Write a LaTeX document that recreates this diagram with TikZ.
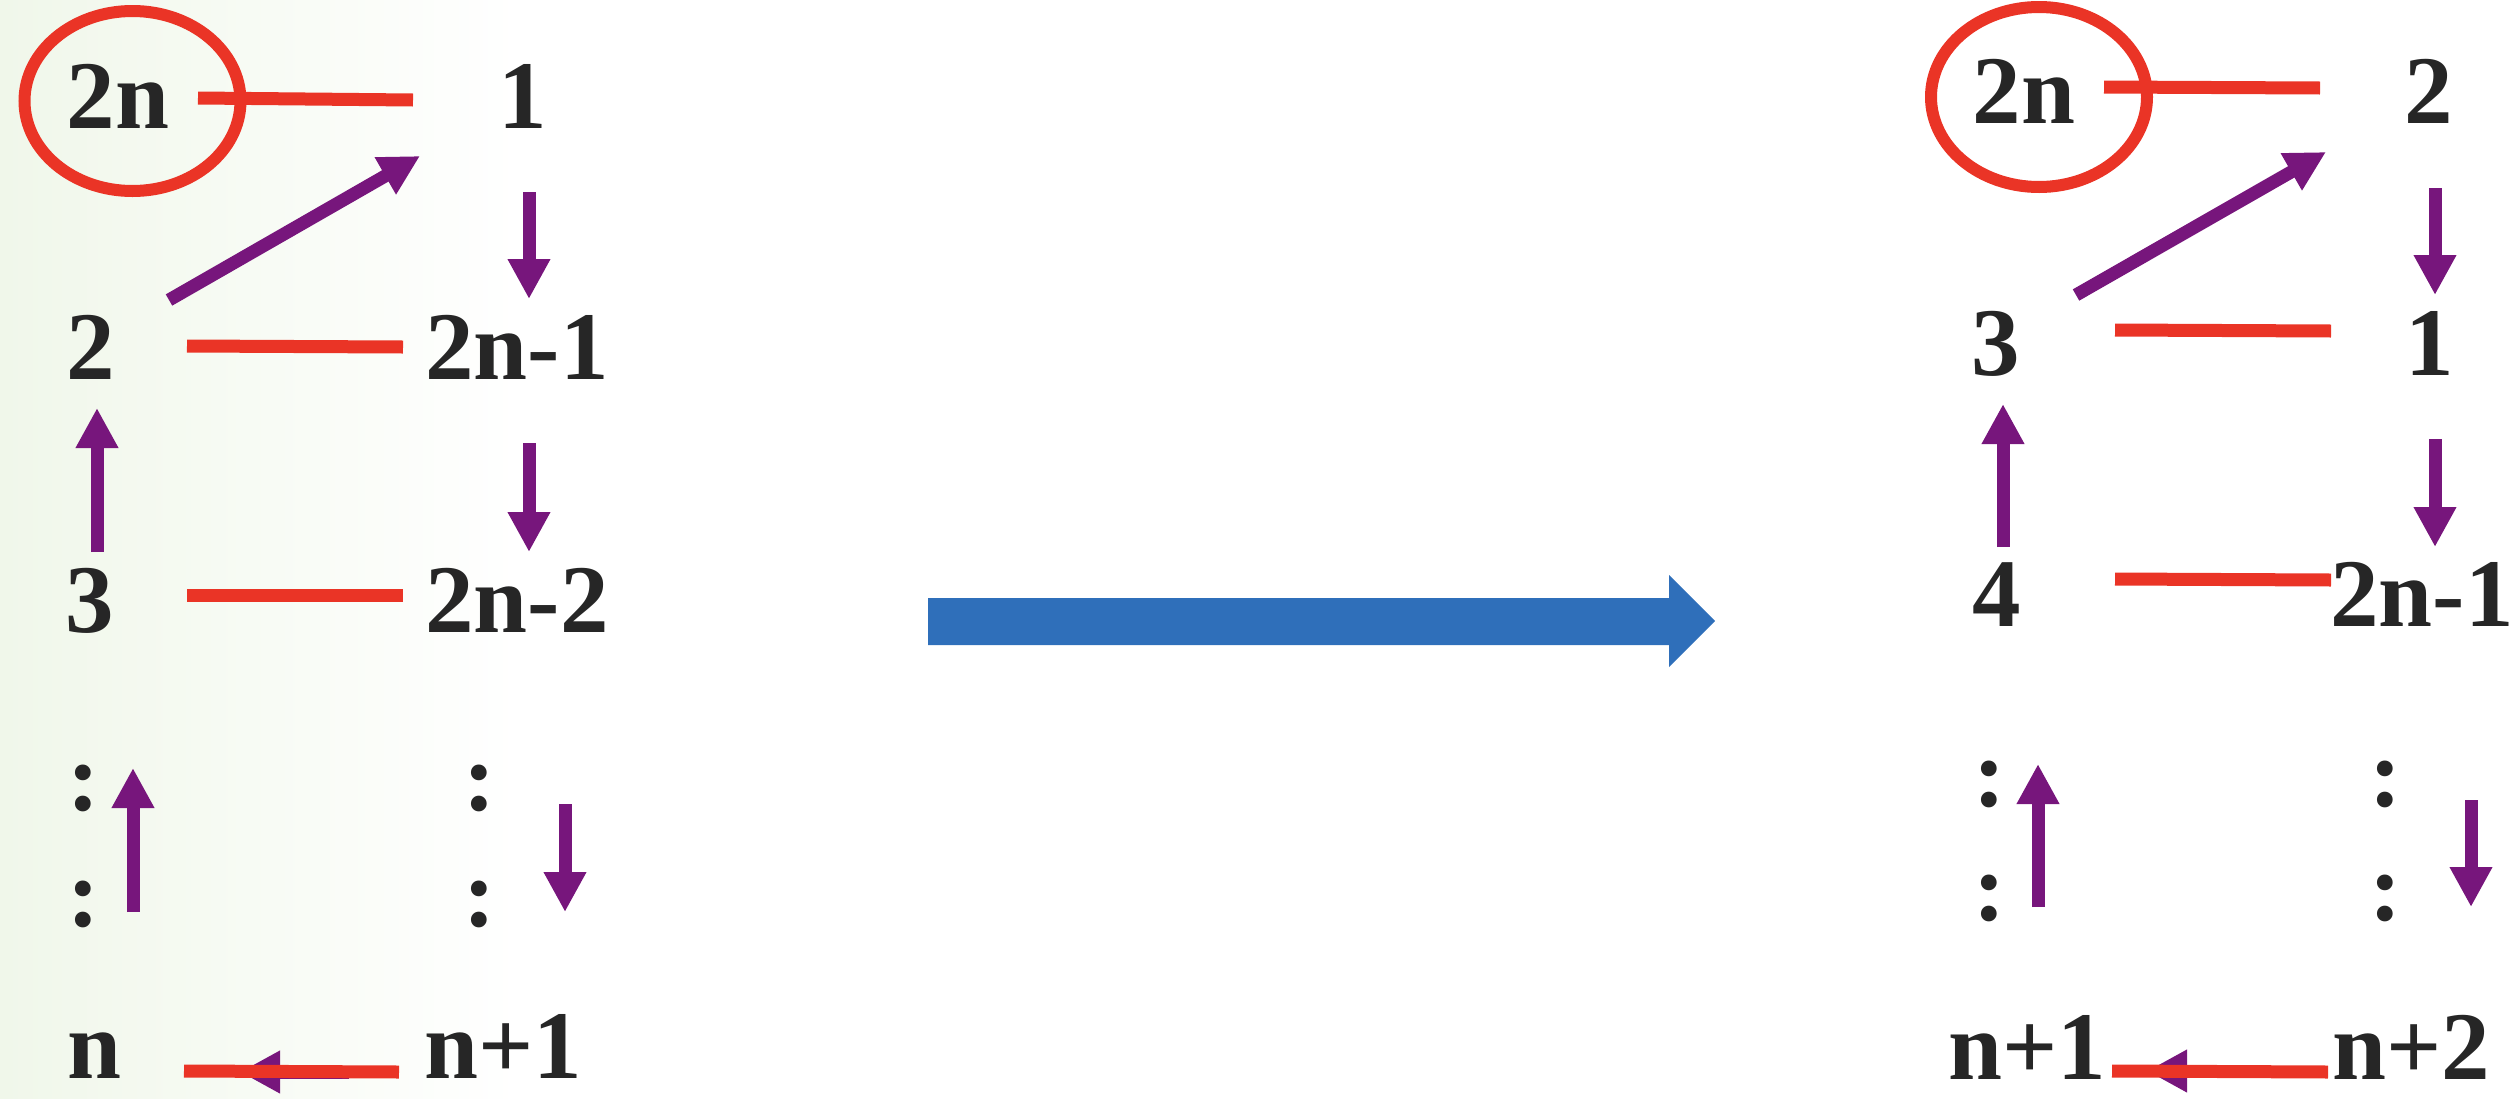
\documentclass[tikz,border=0pt]{standalone}
\usepackage{fontspec}
\setmainfont{Liberation Serif}
\usetikzlibrary{arrows.meta}
\definecolor{redc}{RGB}{234,52,38}
\definecolor{purc}{RGB}{119,22,124}
\definecolor{bluec}{RGB}{47,111,186}
\definecolor{txtc}{RGB}{38,38,38}
\definecolor{bgg}{RGB}{240,247,234}
\begin{document}
\begin{tikzpicture}[x=1pt,y=-1pt,
  lbl/.style={font=\fontsize{97pt}{100pt}\selectfont\bfseries, text=txtc, inner sep=0pt, anchor=base},
  redl/.style={draw=redc, line width=13pt},
  ring/.style={draw=redc, line width=12pt},
  parr/.style={draw=purc, line width=13pt, -{Triangle[length=40pt,width=40pt]}},
]
\useasboundingbox (0,0) rectangle (2520,1098);
\fill[left color=bgg, right color=white] (0,0) rectangle (520,1098);

% ---------- left scheme ----------
\node[lbl] (a2n)  at (118,128) {2n};
\node[lbl] (a1)   at (523,128) {1};
\node[lbl] (a2)   at (91,379)  {2};
\node[lbl] (a2n1) at (517,379) {2n-1};
\node[lbl] (a3)   at (90,632)  {3};
\node[lbl] (a2n2) at (517,632) {2n-2};
\node[lbl] (ad1)  at (84,810)  {:};
\node[lbl] (ad2)  at (84,926)  {:};
\node[lbl] (ad3)  at (480,810) {:};
\node[lbl] (ad4)  at (480,926) {:};
\node[lbl] (an)   at (94,1078) {n};
\node[lbl] (an1)  at (503,1078) {n+1};

\draw[ring] (132.5,101) coordinate (ac) ellipse [x radius=108pt, y radius=90pt];
\draw[redl] (198,98) coordinate (ra1) -- (413,100) coordinate (ra2);
\draw[redl] (187,346) coordinate (ra3) -- (403,347) coordinate (ra4);
\draw[redl] (187,595) coordinate (ra5) -- (403,595) coordinate (ra6);

\draw[parr] (169,300) coordinate (pa1) -- (420,156) coordinate (pa2);
\draw[parr] (529,192) coordinate (pa3) -- (529,299) coordinate (pa4);
\draw[parr] (97,552) coordinate (pa5) -- (97,408) coordinate (pa6);
\draw[parr] (529,443) coordinate (pa7) -- (529,552) coordinate (pa8);
\draw[parr] (133,912) coordinate (pa9) -- (133,768) coordinate (pa10);
\draw[parr] (565,804) coordinate (pa11) -- (565,912) coordinate (pa12);
\draw[parr] (349,1072) coordinate (pa13) -- (240,1072) coordinate (pa14);
\draw[redl] (184,1071) coordinate (ra7) -- (399,1072) coordinate (ra8);

% ---------- big blue arrow ----------
\fill[bluec] (928,598) -- (1669,598) -- (1669,575) -- (1715,621) -- (1669,667) -- (1669,645) -- (928,645) -- cycle;

% ---------- right scheme ----------
\node[lbl] (b2n)  at (2024,123) {2n};
\node[lbl] (b2)   at (2429,123) {2};
\node[lbl] (b3)   at (1996,375) {3};
\node[lbl] (b1)   at (2430,375) {1};
\node[lbl] (b4)   at (1997,626) {4};
\node[lbl] (b2n1) at (2422,626) {2n-1};
\node[lbl] (bd1)  at (1990,806) {:};
\node[lbl] (bd2)  at (1990,920) {:};
\node[lbl] (bd3)  at (2386,806) {:};
\node[lbl] (bd4)  at (2386,920) {:};
\node[lbl] (bn1)  at (2027,1079) {n+1};
\node[lbl] (bn2)  at (2411,1079) {n+2};

\draw[ring] (2039,97) coordinate (bc) ellipse [x radius=108pt, y radius=90pt];
\draw[redl] (2104,87) coordinate (rb1) -- (2320,88) coordinate (rb2);
\draw[redl] (2115,330) coordinate (rb3) -- (2331,331) coordinate (rb4);
\draw[redl] (2115,579) coordinate (rb5) -- (2331,580) coordinate (rb6);

\draw[parr] (2076,295) coordinate (pb1) -- (2326,152) coordinate (pb2);
\draw[parr] (2435,188) coordinate (pb3) -- (2435,295) coordinate (pb4);
\draw[parr] (2003,547) coordinate (pb5) -- (2003,404) coordinate (pb6);
\draw[parr] (2435,439) coordinate (pb7) -- (2435,547) coordinate (pb8);
\draw[parr] (2038,907) coordinate (pb9) -- (2038,764) coordinate (pb10);
\draw[parr] (2471,800) coordinate (pb11) -- (2471,907) coordinate (pb12);
\draw[parr] (2255,1071) coordinate (pb13) -- (2147,1071) coordinate (pb14);
\draw[redl] (2112,1071) coordinate (rb7) -- (2328,1072) coordinate (rb8);
\end{tikzpicture}
\end{document}
